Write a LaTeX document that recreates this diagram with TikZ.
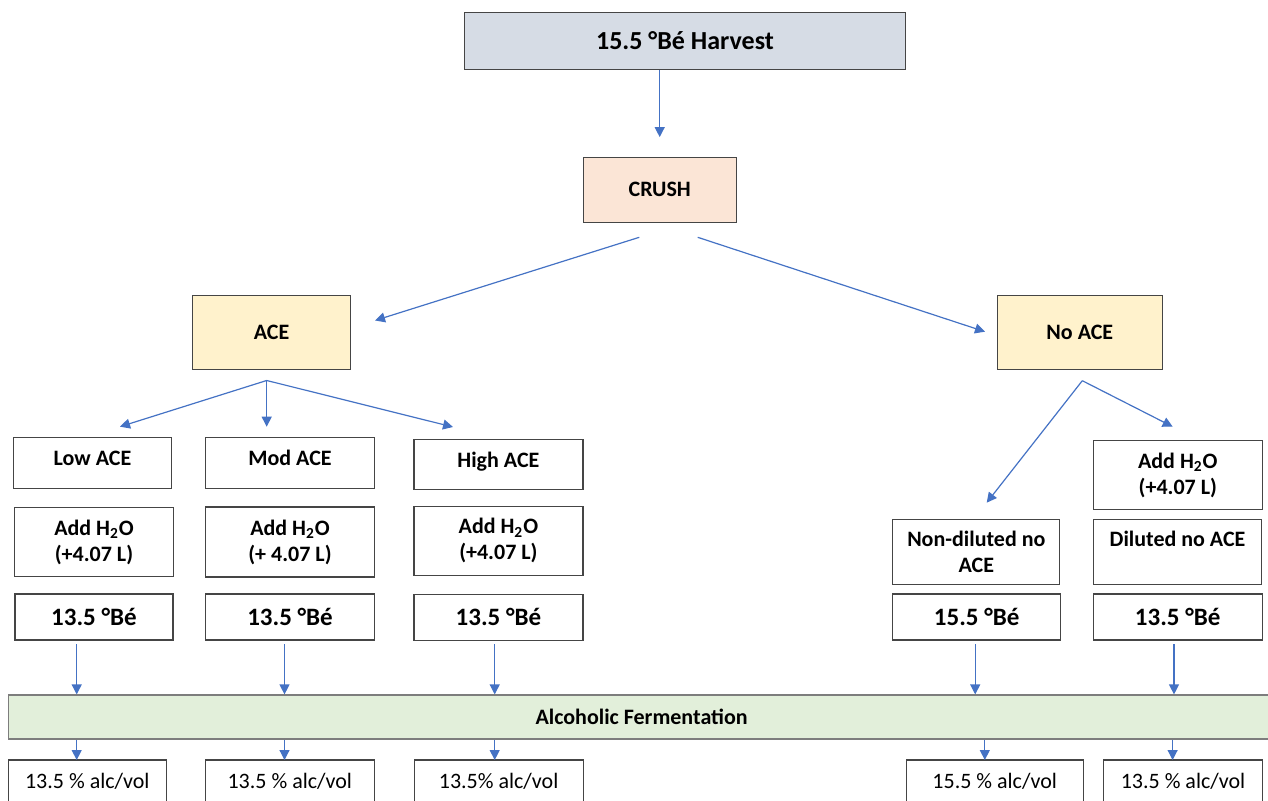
\documentclass[tikz,border=0pt]{standalone}
\usepackage{fontspec}
\setmainfont{Carlito}
\usetikzlibrary{arrows.meta}
\definecolor{arrowblue}{HTML}{4472C4}
\definecolor{boxgray}{HTML}{454545}
\definecolor{harvestblue}{HTML}{D6DCE5}
\definecolor{crushpeach}{HTML}{FBE5D6}
\definecolor{aceyellow}{HTML}{FFF2CC}
\definecolor{fermgreen}{HTML}{E2EFDA}
\newcommand{\water}{Add H\textsubscript{2}O}

\tikzset{
  box/.style={draw=boxgray, line width=0.6pt, align=center, inner sep=0pt,
    font=\fontsize{11}{13}\selectfont\bfseries},
  levelbox/.style={box, text height=8pt, text depth=5pt},
  bebox/.style={box, font=\fontsize{12.5}{15}\selectfont\bfseries},
  resbox/.style={box, font=\fontsize{11}{13}\selectfont},
  sz/.style 2 args={minimum width=#1*0.5pt, minimum height=#2*0.5pt},
  arr/.style={draw=arrowblue, line width=0.6pt, -{Triangle[length=5pt,width=5pt]}},
}

\begin{document}
\begin{tikzpicture}[x=0.5pt,y=-0.5pt]
        \useasboundingbox (0,0) rectangle (1268,801);
        \clip (0,0) rectangle (1268,801);

        \node[box, fill=harvestblue, sz={441}{57},
          font=\fontsize{13}{15}\selectfont\bfseries] (harvest) at (685,40.8)
          {15.5 °Bé Harvest};
        \node[box, fill=crushpeach, sz={153}{65}] (crush) at (659.7,189.8) {CRUSH};
        \node[box, fill=aceyellow, sz={158}{74}] (ace) at (271.5,332.5) {ACE};
        \node[box, fill=aceyellow, sz={165}{74}] (noace) at (1079.8,332.5) {No ACE};

        % ACE branch
        \node[levelbox, sz={158}{51}] (low) at (92.5,463) {Low ACE};
        \node[levelbox, sz={169}{51}] (mod) at (290,462.8) {Mod ACE};
        \node[levelbox, sz={169}{50}] (high) at (498.4,464.3) {High ACE};
        \node[box, sz={159}{69}] (lowh2o) at (94,542) {\water\\(+4.07 L)};
        \node[box, sz={169}{70}] (modh2o) at (290,542) {\water\\(+ 4.07 L)};
        \node[box, sz={169}{69}] (highh2o) at (498.4,540.7) {\water\\(+4.07 L)};
        \node[bebox, sz={158}{46}] (lowbe) at (93.9,617) {13.5 °Bé};
        \node[bebox, sz={169}{46}] (modbe) at (290,617) {13.5 °Bé};
        \node[bebox, sz={169}{46}] (highbe) at (498.4,617.3) {13.5 °Bé};

        % no ACE branch
        \node[box, sz={169}{69}] (dilh2o) at (1177.8,475.3) {\water\\(+4.07 L)};
        \node[box, sz={167}{65}] (nodil) at (976.3,551.7) {Non-diluted no\\ACE};
        \node[box, sz={168}{65}] (dil) at (1177.5,551.7)
          {Diluted no ACE\\\phantom{ACE}};
        \node[bebox, sz={168}{46}] (nodilbe) at (976.7,617) {15.5 °Bé};
        \node[bebox, sz={169}{46}] (dilbe) at (1177.7,617) {13.5 °Bé};

        \node[box, fill=fermgreen, draw=boxgray!70, sz={1267}{44}] (ferm)
          at (641.6,717) {Alcoholic Fermentation};

        \node[resbox, sz={158}{43}] (lowres) at (87.3,781.5) {13.5 \% alc/vol};
        \node[resbox, sz={169}{43}] (modres) at (289.8,781.5) {13.5 \% alc/vol};
        \node[resbox, sz={169}{43}] (highres) at (498.6,781.5) {13.5\% alc/vol};
        \node[resbox, sz={177}{43}] (nodilres) at (994.7,781.5) {15.5 \% alc/vol};
        \node[resbox, sz={159}{43}] (dilres) at (1183,781.5) {13.5 \% alc/vol};

        % arrow ends that do not touch a box
        \coordinate (crushL) at (639.3,237.3);
        \coordinate (crushR) at (697.7,237.3);
        \coordinate (aceIn) at (375,320.5);
        \coordinate (noaceIn) at (985,331.7);
        \coordinate (aceOut) at (266.7,380.5);
        \coordinate (noaceOut) at (1082.3,380.7);
        \coordinate (lowIn) at (120,426.7);
        \coordinate (modIn) at (266.7,426.7);
        \coordinate (highIn) at (453,427);
        \coordinate (nodilIn) at (986.7,502.7);
        \coordinate (dilIn) at (1172.7,426.7);
        \coordinate (up1) at (76.7,644); \coordinate (up2) at (284.5,644);
        \coordinate (up3) at (494.7,644); \coordinate (up4) at (975.2,644);
        \coordinate (up5) at (1174,644);
        \coordinate (dn1) at (76.7,760); \coordinate (dn2) at (284.5,760);
        \coordinate (dn3) at (494.7,760); \coordinate (dn4) at (984.8,760);
        \coordinate (dn5) at (1172.6,760);

        \draw[arr, shorten >=9.8pt] (harvest.south -| crush) -- (crush.north);
        \draw[arr] (crushL) -- (aceIn);
        \draw[arr] (crushR) -- (noaceIn);

        \draw[arr] (aceOut) -- (lowIn);
        \draw[arr] (aceOut) -- (modIn);
        \draw[arr] (aceOut) -- (highIn);
        \draw[arr] (noaceOut) -- (nodilIn);
        \draw[arr] (noaceOut) -- (dilIn);

        \draw[arr] (up1) -- (up1 |- ferm.north);
        \draw[arr] (up2) -- (up2 |- ferm.north);
        \draw[arr] (up3) -- (up3 |- ferm.north);
        \draw[arr] (up4) -- (up4 |- ferm.north);
        \draw[arr] (up5) -- (up5 |- ferm.north);

        \draw[arr] (dn1 |- ferm.south) -- (dn1);
        \draw[arr] (dn2 |- ferm.south) -- (dn2);
        \draw[arr] (dn3 |- ferm.south) -- (dn3);
        \draw[arr] (dn4 |- ferm.south) -- (dn4);
        \draw[arr] (dn5 |- ferm.south) -- (dn5);
      \end{tikzpicture}
\end{document}
